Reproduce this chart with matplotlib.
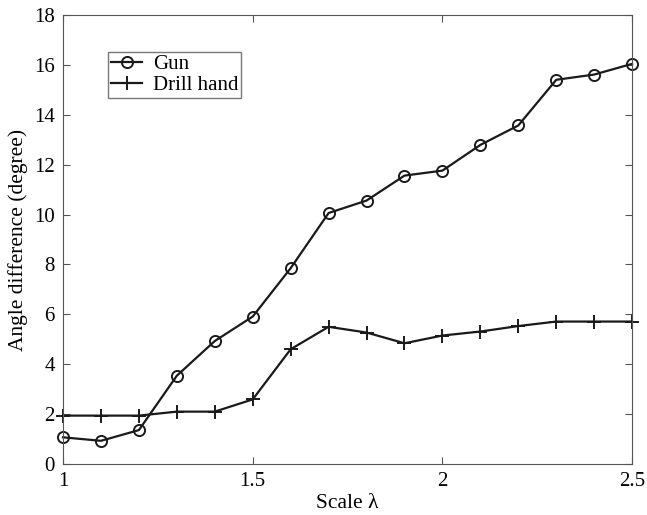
import numpy as np
import matplotlib
matplotlib.use("Agg")
import matplotlib.pyplot as plt

plt.rcParams.update({"font.family": "Liberation Serif", "font.size": 15,
                     "mathtext.fontset": "custom", "mathtext.rm": "Liberation Serif"})

scale = [1.0, 1.1, 1.2, 1.3, 1.4, 1.5, 1.6, 1.7, 1.8, 1.9, 2.0, 2.1, 2.2, 2.3, 2.4, 2.5]
gun = [1.07, 0.93, 1.36, 3.54, 4.93, 5.91, 7.85, 10.06, 10.56, 11.56, 11.76, 12.79, 13.57, 15.40, 15.61, 16.04]
drill = [1.94, 1.94, 1.94, 2.1, 2.1, 2.59, 4.6, 5.5, 5.27, 4.84, 5.15, 5.31, 5.53, 5.71, 5.71, 5.71]

fig = plt.figure(figsize=(6.47, 5.15), dpi=100)
ax = fig.add_axes([0.0974, 0.099, 0.8796, 0.872])
ax.plot(scale, gun, "o-", color="#1a1a1a", lw=1.6, ms=8, mfc="none", mew=1.4, label="Gun", clip_on=False)
ax.plot(scale, drill, "+-", color="#1a1a1a", lw=1.6, ms=10, mew=1.4, label="Drill hand", clip_on=False)

ax.set_xlim(1, 2.5); ax.set_ylim(0, 18)
ax.set_xticks([1, 1.5, 2, 2.5]); ax.set_xticklabels(["1", "1.5", "2", "2.5"])
ax.set_yticks(np.arange(0, 19, 2))
ax.tick_params(direction="in", top=True, right=True, length=5, color="#555555", pad=6)
for s in ax.spines.values():
    s.set_color("#555555")
ax.set_xlabel("Scale λ", fontsize=15.5, labelpad=2)
ax.set_ylabel("Angle difference (degree)", fontsize=15.5, labelpad=4)

leg = ax.legend(loc="upper left", bbox_to_anchor=(0.079, 0.918), fontsize=15, frameon=True,
                fancybox=False, edgecolor="#555555", borderpad=0.15, handlelength=1.5,
                handletextpad=0.5, labelspacing=0.05, borderaxespad=0)
leg.get_frame().set_linewidth(1.0)

fig.savefig("out.png", dpi=100)
